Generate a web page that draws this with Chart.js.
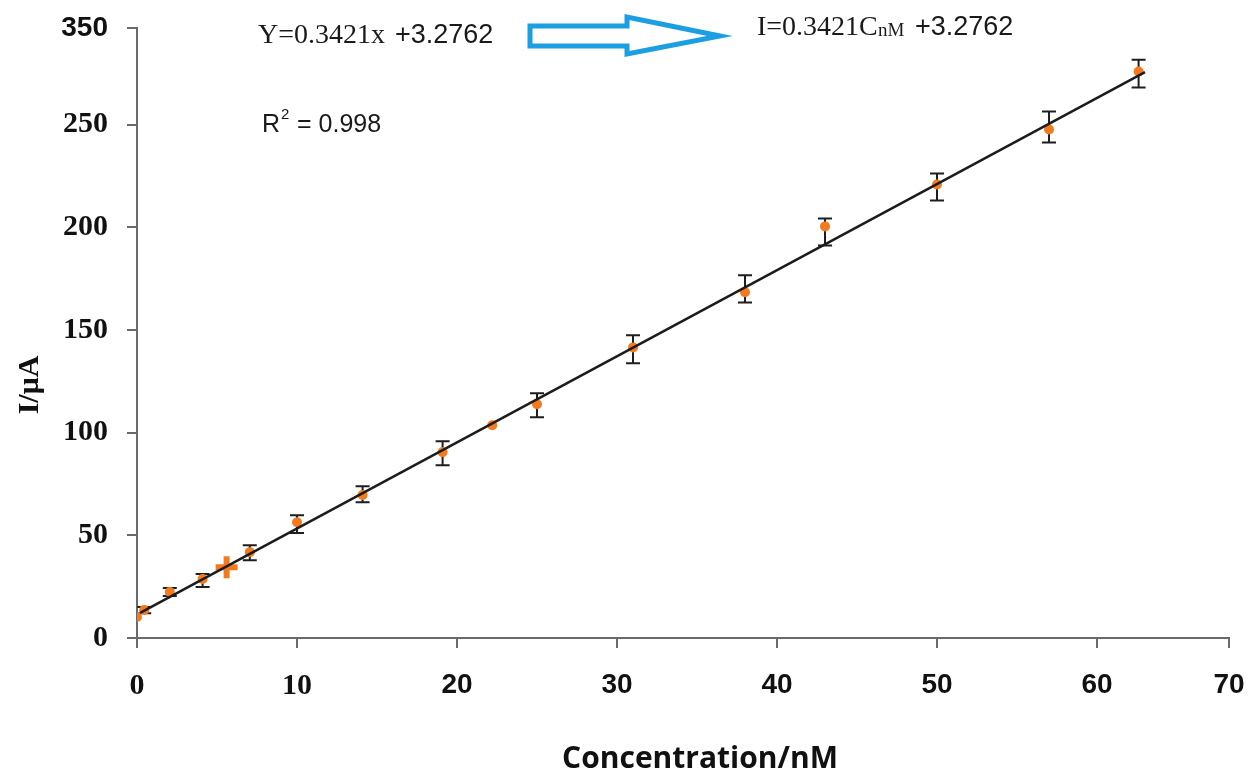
<!DOCTYPE html>
<html><head><meta charset="utf-8">
<script src="https://cdn.jsdelivr.net/npm/chart.js@4.4.1/dist/chart.umd.min.js"></script>
<style>html,body{margin:0;padding:0;background:#fff}#wrap{width:1250px;height:771px;position:relative}</style>
</head><body><div id="wrap"><canvas id="c"></canvas></div>
<script>
// ---- data ----
const concentration = [0, 0.45, 2.05, 4.1, 5.6, 7.05, 10, 14.1, 19.1, 22.2, 25, 31, 38, 43, 50, 57, 62.6];
const current       = [10.2, 13.6, 22.4, 28.7, 34.5, 41.8, 56.4, 69.6, 90.5, 103.6, 113.8, 141.5, 168.3, 200.4, 220.8, 247.6, 275.8];
const errUp         = [0, 1.5, 2, 2.4, 0, 3.4, 3.4, 4.3, 5.3, 0, 5.4, 5.9, 8.3, 3.9, 5.4, 8.7, 5.8];
const errDown       = [0, 1.5, 2, 3.9, 0, 3.9, 5.3, 3.5, 6.4, 0, 6.3, 7.7, 4.9, 9.3, 7.8, 6.4, 7.8];
const fitX = [0.2, 63];
const fitY = [12.2, 275.5];
const xTickValues = [0, 10, 20, 30, 40, 50, 60, 68.25];
const xTickLabels = ['0', '10', '20', '30', '40', '50', '60', '70'];
const yTickValues = [0, 50, 100, 150, 200, 250, 297];
const yTickLabels = ['0', '50', '100', '150', '200', '250', '350'];
const xTitle = 'Concentration/nM';
const yTitle = 'I/\u03bcA';

const AXIS = '#6a6a6a';
const SERIF = '"Liberation Serif", "DejaVu Serif", serif';
const SANS = '"Liberation Sans", Arial, sans-serif';

const errorBars = {
  id: 'errorBars',
  beforeDatasetsDraw(chart) {
    const {ctx, scales: {x, y}} = chart;
    ctx.save();
    ctx.strokeStyle = '#1e1e1e';
    ctx.lineWidth = 2;
    concentration.forEach((cx, i) => {
      if (!errUp[i] && !errDown[i]) return;
      const px = x.getPixelForValue(cx);
      const t = y.getPixelForValue(current[i] + errUp[i]);
      const b = y.getPixelForValue(current[i] - errDown[i]);
      ctx.beginPath();
      ctx.moveTo(px, t); ctx.lineTo(px, b);
      ctx.moveTo(px - 7, t); ctx.lineTo(px + 7, t);
      ctx.moveTo(px - 7, b); ctx.lineTo(px + 7, b);
      ctx.stroke();
    });
    ctx.restore();
  }
};

const annotations = {
  id: 'annotations',
  afterDraw(chart) {
    const ctx = chart.ctx;
    ctx.save();
    ctx.fillStyle = '#1a1a1a';
    ctx.textBaseline = 'alphabetic';
    ctx.textAlign = 'left';
    // equation 1
    ctx.font = '28px ' + SERIF;
    ctx.fillText('Y=0.3421x', 258, 43);
    ctx.font = '27px ' + SANS;
    ctx.fillText('+3.2762', 395, 43);
    // R^2
    ctx.font = '25px ' + SANS;
    ctx.fillText('R', 262, 132);
    let w = ctx.measureText('R').width;
    ctx.font = '15px ' + SANS;
    ctx.fillText('2', 262 + w + 1, 119);
    ctx.font = '25px ' + SANS;
    ctx.fillText(' = 0.998', 262 + w + 10, 132);
    // equation 2
    ctx.font = '28px ' + SERIF;
    ctx.fillText('I=0.3421C', 757, 35);
    ctx.font = '19px ' + SERIF;
    ctx.fillText('nM', 878, 36);
    ctx.font = '27px ' + SANS;
    ctx.fillText('+3.2762', 915, 35);
    // arrow
    ctx.strokeStyle = '#1b9fe2';
    ctx.lineWidth = 5;
    ctx.lineJoin = 'miter';
    ctx.beginPath();
    ctx.moveTo(530, 26); ctx.lineTo(627, 26); ctx.lineTo(627, 17);
    ctx.lineTo(720, 36); ctx.lineTo(627, 54); ctx.lineTo(627, 46);
    ctx.lineTo(530, 46); ctx.closePath();
    ctx.stroke();
    // axis titles
    ctx.fillStyle = '#111';
    ctx.font = 'bold 30px "Open Sans", ' + SANS;
    ctx.textAlign = 'center';
    ctx.fillText(xTitle, 700, 768);
    ctx.save();
    ctx.translate(38, 385);
    ctx.rotate(-Math.PI / 2);
    ctx.font = 'bold 30px ' + SERIF;
    ctx.textAlign = 'center';
    ctx.fillText(yTitle, 0, 0);
    ctx.restore();
    ctx.restore();
  }
};

new Chart(document.getElementById('c'), {
  type: 'scatter',
  data: {
    datasets: [
      {
        type: 'line',
        data: fitX.map((v, i) => ({x: v, y: fitY[i]})),
        borderColor: '#1c1c1c',
        borderWidth: 2.5,
        pointRadius: 0,
        fill: false,
        order: 0
      },
      {
        data: concentration.map((v, i) => ({x: v, y: current[i]})),
        backgroundColor: '#f47a1f',
        borderColor: '#f47a1f',
        pointStyle: ctx => ctx.dataIndex === 4 ? 'cross' : 'circle',
        pointRadius: ctx => ctx.dataIndex === 4 ? 11 : 5,
        borderWidth: ctx => ctx.dataIndex === 4 ? 6 : 0,
        order: 1
      }
    ]
  },
  options: {
    responsive: true,
    maintainAspectRatio: false,
    animation: false,
    events: [],
    layout: {padding: {top: 28, right: 21, left: 0, bottom: 0}},
    plugins: {legend: {display: false}, tooltip: {enabled: false}},
    scales: {
      x: {
        type: 'linear',
        min: 0, max: 68.25,
        afterFit: s => { s.height = 133; s.paddingLeft = 0; s.paddingRight = 0; },
        afterBuildTicks: s => { s.ticks = xTickValues.map(v => ({value: v})); },
        border: {display: true, color: AXIS, width: 2},
        grid: {drawOnChartArea: false, drawTicks: true, tickLength: 10, color: AXIS, lineWidth: 2},
        ticks: {
          autoSkip: false, maxRotation: 0, padding: 20, color: '#111',
          callback: (v, i) => xTickLabels[i],
          font: ctx => (ctx.index < 2 ? {family: SERIF, size: 30, weight: 'bold'} : {family: SANS, size: 28, weight: 'bold'})
        }
      },
      y: {
        type: 'linear',
        min: 0, max: 297,
        afterFit: s => { s.width = 137; s.paddingTop = 0; s.paddingBottom = 0; },
        afterBuildTicks: s => { s.ticks = yTickValues.map(v => ({value: v})); },
        border: {display: true, color: AXIS, width: 2},
        grid: {drawOnChartArea: false, drawTicks: true, tickLength: 10, color: AXIS, lineWidth: 2},
        ticks: {
          autoSkip: false, padding: 19, color: '#111',
          callback: (v, i) => yTickLabels[i],
          font: ctx => (ctx.index === 6 ? {family: SANS, size: 28, weight: 'bold'} : {family: SERIF, size: 30, weight: 'bold'})
        }
      }
    }
  },
  plugins: [errorBars, annotations]
});
</script>
</body></html>
